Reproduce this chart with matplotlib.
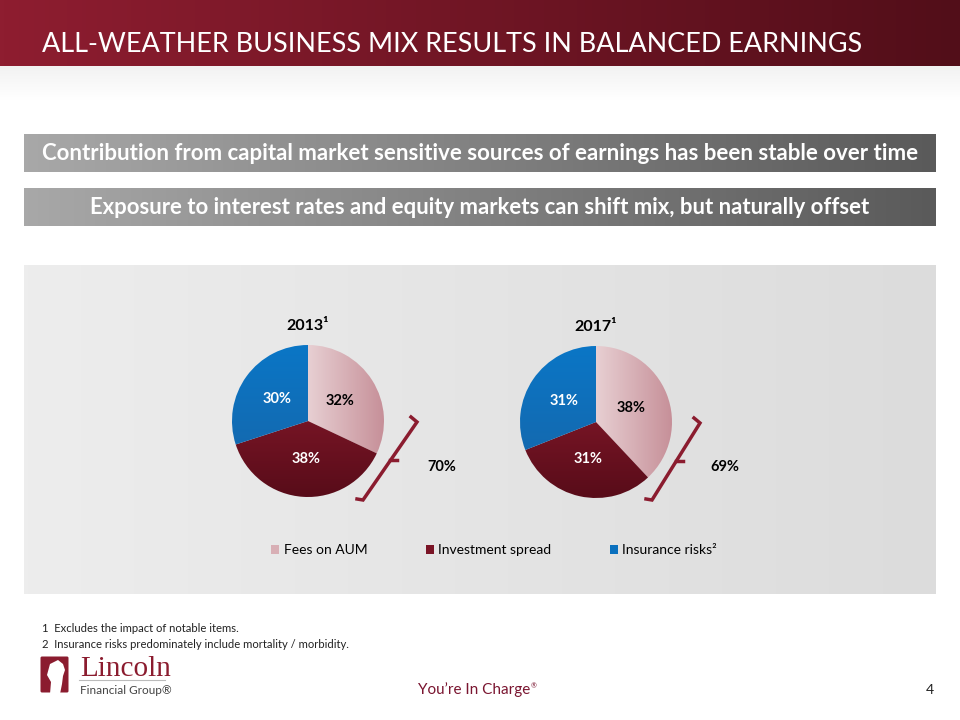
import numpy as np
import matplotlib.pyplot as plt
from matplotlib.patches import Patch, FancyBboxPatch, Polygon
from matplotlib.colors import LinearSegmentedColormap

# data
categories = ['Fees on AUM', 'Investment spread', 'Insurance risks\u00b2']
years = ['2013\u00b9', '2017\u00b9']
shares_2013 = [32, 38, 30]
shares_2017 = [38, 31, 31]
sensitive_total = ['70%', '69%']
footnotes = ['1  Excludes the impact of notable items.',
             '2  Insurance risks predominately include mortality / morbidity.']

W, H = 960, 720
FONT = ['Lato', 'DejaVu Sans']
plt.rcParams['font.family'] = FONT

fig = plt.figure(figsize=(9.6, 7.2), dpi=100)
ax = fig.add_axes([0, 0, 1, 1])
ax.set_xlim(0, W)
ax.set_ylim(H, 0)
ax.axis('off')


def hgrad(x0, x1, y0, y1, c0, c1, z=0, vertical=False):
    cm = LinearSegmentedColormap.from_list('g', [c0, c1])
    g = np.linspace(0, 1, 256)
    g = g.reshape(-1, 1) if vertical else g.reshape(1, -1)
    ax.imshow(g, cmap=cm, extent=(x0, x1, y1, y0), aspect='auto', zorder=z)


def fit_text(t, width):
    fig.canvas.draw()
    bb = t.get_window_extent()
    t.set_fontsize(t.get_fontsize() * width / bb.width)


# header
hgrad(0, W, 0, 66, '#8E1D30', '#520E19')
hgrad(0, W, 66, 100, '#F2F2F2', '#FFFFFF', vertical=True)
title = ax.text(42, 52, 'ALL-WEATHER BUSINESS MIX RESULTS IN BALANCED EARNINGS',
                color='white', fontsize=24, va='baseline', ha='left', zorder=3)
fit_text(title, 820)

# grey message bars
msgs = ['Contribution from capital market sensitive sources of earnings has been stable over time',
        'Exposure to interest rates and equity markets can shift mix, but naturally offset']
bars = [(134, 172, 878), (188, 226, 786)]
for m, (y0, y1, tw) in zip(msgs, bars):
    hgrad(24, 936, y0, y1, '#A8A8A8', '#5A5A5A', z=1)
    t = ax.text(480, (y0 + y1) / 2 + 1, m, color='white', fontsize=14, fontweight='bold',
                ha='center', va='center', zorder=3)
    fit_text(t, tw)

# chart panel
hgrad(24, 936, 265, 594, '#EDEDED', '#DCDCDC', z=1)

grads = [('#EEDCDE', '#C68F98', 'h'),
         ('#931D30', '#580C19', 'v'),
         ('#0A76C6', '#1864A6', 'v')]


def draw_pie(cx, cy, r, vals, label):
    pax = fig.add_axes([(cx - r) / W, (H - cy - r) / H, 2 * r / W, 2 * r / H])
    wedges, _, autotexts = pax.pie(vals, startangle=90, counterclock=False,
                                   autopct=lambda p: f'{p:.0f}%', pctdistance=0.5,
                                   textprops=dict(fontsize=10.5, fontweight='bold'))
    pax.set_xlim(-1, 1)
    pax.set_ylim(-1, 1)
    pax.set_aspect('equal')
    for w, (c0, c1, d), at in zip(wedges, grads, autotexts):
        w.set_facecolor('none')
        w.set_edgecolor('none')
        cm = LinearSegmentedColormap.from_list('g', [c0, c1])
        g = np.linspace(0, 1, 256)
        if d == 'h':
            img = pax.imshow(g.reshape(1, -1), cmap=cm, extent=(-0.2, 1, -1, 1), aspect='auto')
        else:
            img = pax.imshow(g.reshape(-1, 1), cmap=cm, extent=(-1, 1, -1, 1), aspect='auto',
                             origin='upper')
        img.set_clip_path(w)
        at.set_zorder(5)
    autotexts[0].set_color('black')
    autotexts[1].set_color('white')
    autotexts[2].set_color('white')
    pax.text(0, 1.25, label, ha='center', va='center', fontsize=11.5, fontweight='bold')
    pax.axis('off')
    for t in pax.texts:
        t.set_clip_on(False)


draw_pie(308, 421, 76, shares_2013, years[0])
draw_pie(596, 422, 76, shares_2017, years[1])

# brackets
red = '#8B1C2F'
for (tx, ty), (bx, by), lab in [((417, 422), (363, 500), sensitive_total[0]),
                                ((700, 423), (652, 500), sensitive_total[1])]:
    ax.plot([tx - 6, tx, bx, bx - 6], [ty - 5, ty, by, by - 1], color=red, lw=2.5,
            solid_joinstyle='miter', zorder=4)
    mx, my = (tx + bx) / 2, (ty + by) / 2
    ax.plot([mx, mx + 7], [my - 1, my - 1], color=red, lw=2.5, zorder=4)
    ax.text(tx + 10, 467, lab, fontsize=10.5, fontweight='bold', ha='left', va='center', zorder=4)

# legend
handles = [Patch(facecolor=c, edgecolor='none') for c in ['#D8AFB5', '#7A1426', '#0A70BE']]
fig.legend(handles, categories, loc='center', bbox_to_anchor=(494 / W, 1 - 550 / H), ncol=3,
           frameon=False, fontsize=10, handlelength=0.6, handleheight=0.6,
           handletextpad=0.3, columnspacing=4.2)

# footnotes
for i, f in enumerate(footnotes):
    ax.text(42, 629 + 15 * i, f, fontsize=8.1, ha='left', va='center', color='#222222')

# logo
ax.add_patch(FancyBboxPatch((42, 658), 25, 33, boxstyle='round,pad=1.5', fc=red, ec='none', zorder=3))
ax.add_patch(Polygon([(50, 694), (51, 682), (47, 675), (50, 664), (58, 660), (63, 664),
                      (65, 670), (63, 676), (62, 684), (60, 694)], closed=True, fc='white', ec='none',
                     zorder=4))
ax.text(80, 676, 'Lincoln', fontsize=21, family='Liberation Serif', color=red, ha='left',
        va='baseline')
ax.plot([79, 165], [680, 680], color='#BBBBBB', lw=0.8)
ax.text(80, 690, 'Financial Group\u00ae', fontsize=8.5, color='#444444', ha='left', va='center')

ax.text(418, 690, 'You\u2019re In Charge', fontsize=11, color='#7A1530', ha='left', va='center')
ax.text(531, 686, '\u00ae', fontsize=5, color='#7A1530', ha='left', va='center')
ax.text(930, 690, '4', fontsize=10, color='#222222', ha='center', va='center')

fig.savefig('out.png', dpi=100)
